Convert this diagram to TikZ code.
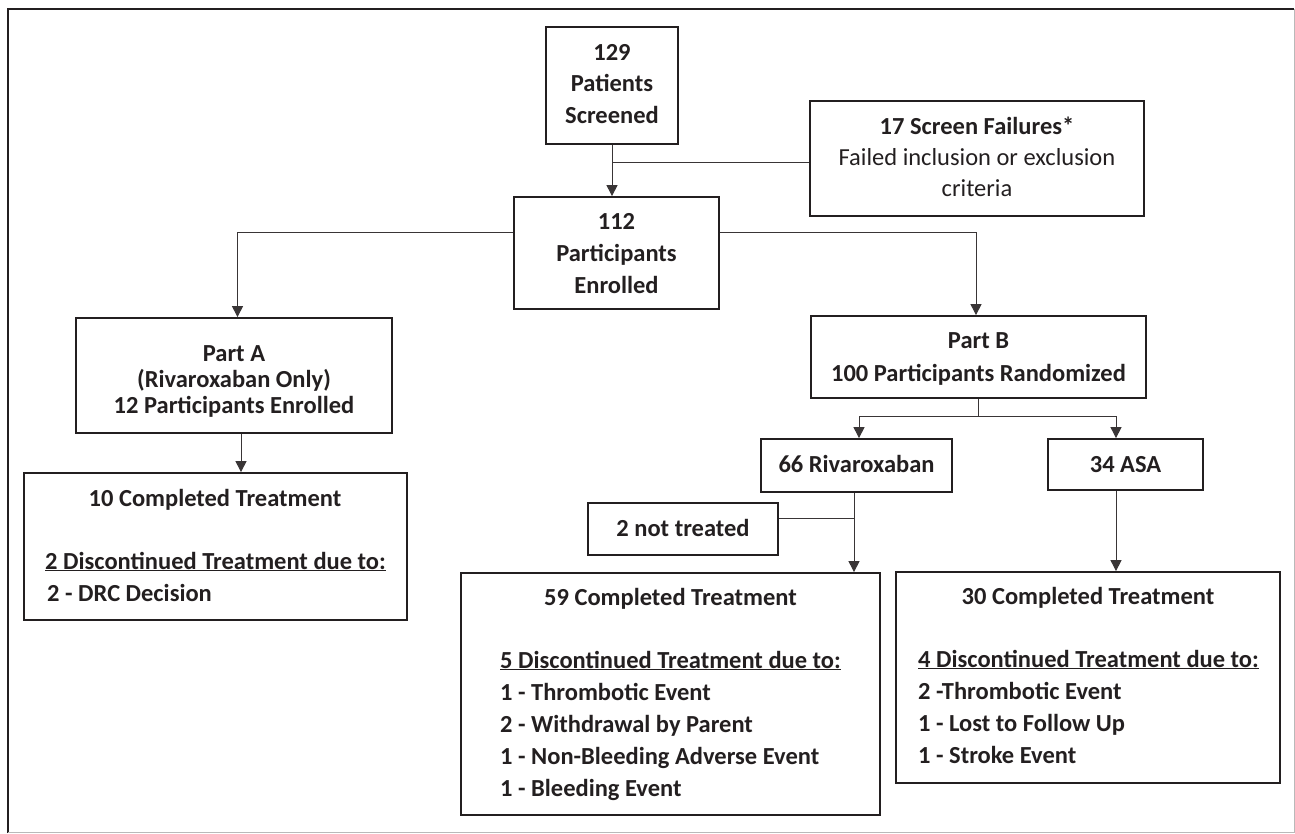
\documentclass[tikz,border=0pt]{standalone}
\usepackage{fontspec}
\setmainfont{Carlito}
\usetikzlibrary{arrows.meta}
\definecolor{ink}{HTML}{231F20}
\begin{document}
\begin{tikzpicture}[x=1pt,y=-1pt,
  box/.style={draw=ink,line width=1.8pt,inner sep=0pt},
  conn/.style={draw=ink!90,line width=1pt},
  arr/.style={conn,-{Triangle[width=11pt,length=11pt]}},
  tb/.style={font=\fontsize{24.5}{31.5}\selectfont\bfseries,text=ink,inner sep=0pt,align=center,anchor=base},
  tr/.style={font=\fontsize{24.5}{31}\selectfont,text=ink,inner sep=0pt,align=center,anchor=base},
  tl/.style={font=\fontsize{24.5}{32}\selectfont\bfseries,text=ink,inner sep=0pt,align=left,anchor=base west},
]
\useasboundingbox (0,0) rectangle (1295,833);
% frame
\draw[ink,line width=2pt] (8,833) -- (8,9) -- (1294,9);
\draw[gray!55,line width=1pt] (1294,9) -- (1294,832) -- (8,832);

% boxes
\node[box,minimum width=132pt,minimum height=117pt] (scr) at (612,85.5) {};
\node[box,minimum width=205pt,minimum height=112pt] (enr) at (616.5,253) {};
\node[box,minimum width=334pt,minimum height=115pt] (fail) at (977,158.5) {};
\node[box,minimum width=316pt,minimum height=115pt] (pa) at (234,375.5) {};
\node[box,minimum width=335pt,minimum height=82pt] (pb) at (978.5,357) {};
\node[box,minimum width=191pt,minimum height=53pt] (riv) at (856.5,465.5) {};
\node[box,minimum width=155pt,minimum height=51pt] (asa) at (1125.5,464.5) {};
\node[box,minimum width=190pt,minimum height=52pt] (nt) at (683,529) {};
\node[box,minimum width=383pt,minimum height=147pt] (ca) at (215.5,546.5) {};
\node[box,minimum width=419pt,minimum height=242pt] (cr) at (670.5,694) {};
\node[box,minimum width=384pt,minimum height=211pt] (cs) at (1088,677.5) {};

% texts (anchor = baseline of the last line)
\node[tb] (scr-t) at (612,123) {129\\Patients\\Screened};
\node[tb,font=\fontsize{24.5}{32}\selectfont\bfseries] (enr-t) at (616.5,293) {112\\Participants\\Enrolled};
\node[tr] (fail-t) at (977,196) {\textbf{17 Screen Failures*}\\Failed inclusion or exclusion\\criteria};
\node[tb,font=\fontsize{24.5}{26}\selectfont\bfseries] (pa-t) at (234,413) {Part A\\(Rivaroxaban Only)\\12 Participants Enrolled};
\node[tb,font=\fontsize{24.5}{33}\selectfont\bfseries] (pb-t) at (978.5,381) {Part B\\100 Participants Randomized};
\node[tb] (riv-t) at (856.5,472) {66 Rivaroxaban};
\node[tb] (asa-t) at (1125.5,472) {34 ASA};
\node[tb] (nt-t) at (683,536) {2 not treated};
\node[tb] (ca-t) at (215,506) {10 Completed Treatment};
\node[tl] (ca-l) at (45,601) {\underline{2 Discontinued Treatment due to:}\\\hspace*{2pt}2 - DRC Decision};
\node[tb] (cr-t) at (670.5,605) {59 Completed Treatment};
\node[tl] (cr-l) at (500,796) {\underline{5 Discontinued Treatment due to:}\\1 - Thrombotic Event\\2 - Withdrawal by Parent\\1 - Non-Bleeding Adverse Event\\1 - Bleeding Event};
\node[tb] (cs-t) at (1088,604) {30 Completed Treatment};
\node[tl] (cs-l) at (918,763) {\underline{4 Discontinued Treatment due to:}\\2 -Thrombotic Event\\1 - Lost to Follow Up\\1 - Stroke Event};

% connectors
\coordinate (j1) at (612,162);
\draw[arr] (scr.south) -- (scr.south |- enr.north);
\draw[conn] (j1 -| fail.west) -- (j1);
\coordinate (ya) at (0,232);
\draw[arr] (ya -| enr.west) -| ([xshift=3.5pt]pa.north);
\draw[arr] (ya -| enr.east) -| ([xshift=-2.5pt]pb.north);
\draw[arr] ([xshift=7pt]pa.south) -- ([xshift=7pt]pa.south |- ca.north);
\coordinate (bj) at (978,416);
\draw[conn] (pb.south -| bj) -- (bj);
\draw[arr] (bj) -| ([xshift=2.5pt]riv.north);
\draw[arr] (bj) -| ([xshift=-9.5pt]asa.north);
\coordinate (rx) at (854,0);
\draw[arr] (riv.south -| rx) -- (cr.north -| rx);
\draw[conn] ([yshift=11pt]nt.east) -- ([yshift=11pt]nt.east -| rx);
\draw[arr] ([xshift=-9.5pt]asa.south) -- ([xshift=-9.5pt]asa.south |- cs.north);
\end{tikzpicture}
\end{document}
